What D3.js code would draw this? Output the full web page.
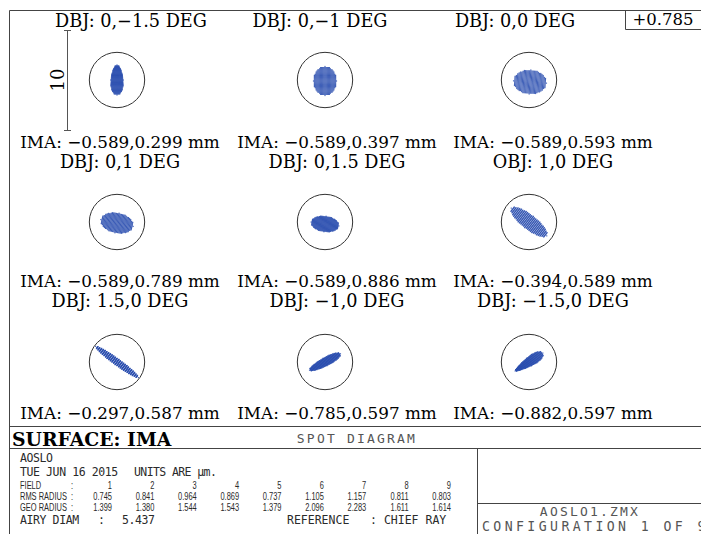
<!DOCTYPE html>
<html><head><meta charset="utf-8">
<script src="https://cdn.jsdelivr.net/npm/d3@7"></script>
<style>body{margin:0;background:#fff;overflow:hidden}</style>
</head><body>
<script>
// ---------- data ----------
const fieldNumbers = [1, 2, 3, 4, 5, 6, 7, 8, 9];
const objectLabels = ["DBJ: 0,\u22121.5 DEG", "DBJ: 0,\u22121 DEG", "DBJ: 0,0 DEG",
  "DBJ: 0,1 DEG", "DBJ: 0,1.5 DEG", "OBJ: 1,0 DEG",
  "DBJ: 1.5,0 DEG", "DBJ: \u22121,0 DEG", "DBJ: \u22121.5,0 DEG"];
const imageLabels = ["IMA: \u22120.589,0.299 mm", "IMA: \u22120.589,0.397 mm", "IMA: \u22120.589,0.593 mm",
  "IMA: \u22120.589,0.789 mm", "IMA: \u22120.589,0.886 mm", "IMA: \u22120.394,0.589 mm",
  "IMA: \u22120.297,0.587 mm", "IMA: \u22120.785,0.597 mm", "IMA: \u22120.882,0.597 mm"];
const rmsRadius = ["0.745", "0.841", "0.964", "0.869", "0.737", "1.105", "1.157", "0.811", "0.803"];
const geoRadius = ["1.399", "1.380", "1.544", "1.543", "1.379", "2.096", "2.283", "1.611", "1.614"];
// spot footprint per field (micrometres)
const spotSemiMajor = [1.5, 1.45, 1.65, 1.65, 1.4, 2.25, 2.65, 1.75, 1.65];
const spotSemiMinor = [0.62, 1.15, 1.2, 1.0, 0.78, 0.72, 0.33, 0.42, 0.45];
const spotAngle = [90, 90, 4, 12, 8, 38, 36, -28, -33];
const spotOffsetX = [0, 0, 0.1, 0, 0, 0, 0, 0, 0];
const spotOffsetY = [0, 0.1, 0.2, 0.1, 0.2, 0, 0, 0, 0];
const spotTaper = [0.2, 0, 0, 0, 0, 0, 0, 0.15, 0.5];
const airyDiameter = 5.437;
const scaleBarLength = 10;
const referenceLabel = "+0.785";
const surfaceLabel = "SURFACE: IMA";
const plotTitle = "SPOT DIAGRAM";
const lensName = "AOSLO";
const dateText = "TUE JUN 16 2015";
const unitsText = "UNITS ARE \u00b5m.";
const airyLine = ["AIRY DIAM", ":", "5.437"];
const referenceLine = "REFERENCE   : CHIEF RAY";
const fileName = "AOSLO1.ZMX";
const configLine = "CONFIGURATION 1 OF 9";

// ---------- layout ----------
const W = 701, H = 534;
const svg = d3.select("body").append("svg").attr("width", W).attr("height", H)
  .style("background", "#fff");
const serif = "'DejaVu Serif', serif";
const mono = "'DejaVu Sans Mono', monospace";
const ink = "#000", lineCol = "#444", spotCol = "#2d50b0";

const colX = [117, 325, 529];             // spot centres
const rowY = [80, 222, 362];
const topTitleX = [131, 320, 515];
const labelX = [120, 337, 553];
const objBase = [27, 168, 307];
const imaBase = [148, 287, 419];

const um = d3.scaleLinear().domain([0, scaleBarLength]).range([0, 100]);

// frame
svg.append("path").attr("d", `M9.5,${H} V10.5 H${W}`).attr("fill", "none").attr("stroke", lineCol);
svg.append("path").attr("d", `M625.5,10.5 V29.5 H${W}`).attr("fill", "none").attr("stroke", lineCol);
svg.append("text").attr("x", 663).attr("y", 25).attr("text-anchor", "middle")
  .attr("font-family", serif).attr("font-size", 16.5).attr("fill", ink).text(referenceLabel);

// scale bar
const barY = d3.scaleLinear().domain([0, scaleBarLength]).range([130, 30]);
const sb = svg.append("g").attr("stroke", "#555");
sb.append("line").attr("x1", 67.5).attr("x2", 67.5).attr("y1", barY(0)).attr("y2", barY(scaleBarLength));
[0, scaleBarLength].forEach(v => sb.append("line").attr("x1", 64).attr("x2", 71)
  .attr("y1", barY(v) + 0.5).attr("y2", barY(v) + 0.5));
svg.append("text").attr("transform", `translate(64,${barY(scaleBarLength / 2)}) rotate(-90)`)
  .attr("text-anchor", "middle").attr("font-family", serif).attr("font-size", 18).attr("fill", ink)
  .text(String(scaleBarLength));

// spots
const grid = d3.range(-1, 1.0001, 2 / 26);
fieldNumbers.forEach((f, i) => {
  const r = Math.floor(i / 3), c = i % 3;
  const cx = colX[c], cy = rowY[r];
  const g = svg.append("g");
  g.append("circle").attr("cx", cx).attr("cy", cy).attr("r", um(airyDiameter / 2) + 0.5)
    .attr("fill", "none").attr("stroke", "#333").attr("stroke-width", 1);
  const a = spotSemiMajor[i], b = spotSemiMinor[i], t = spotTaper[i];
  const th = spotAngle[i] * Math.PI / 180;
  const pts = [];
  grid.forEach(u => grid.forEach(v => {
    if (u * u + v * v <= 1) {
      const p = u * a, q = v * b * (1 + t * u);
      const x = p * Math.cos(th) - q * Math.sin(th) + spotOffsetX[i];
      const y = p * Math.sin(th) + q * Math.cos(th) + spotOffsetY[i];
      pts.push([x, y]);
    }
  }));
  g.selectAll("rect.d").data(pts).join("rect").attr("class", "d")
    .attr("x", d => cx + um(d[0]) - 0.6).attr("y", d => cy + um(d[1]) - 0.6)
    .attr("width", 1.2).attr("height", 1.2).attr("fill", spotCol).attr("opacity", 0.85);
  // labels
  svg.append("text").attr("x", r === 0 ? topTitleX[c] : labelX[c]).attr("y", objBase[r])
    .attr("text-anchor", "middle").attr("font-family", serif).attr("font-size", 17.7)
    .attr("fill", ink).text(objectLabels[i]);
  svg.append("text").attr("x", labelX[c]).attr("y", imaBase[r])
    .attr("text-anchor", "middle").attr("font-family", serif).attr("font-size", 16.8)
    .attr("fill", ink).text(imageLabels[i]);
});

// bottom information block
const info = svg.append("g").attr("stroke", lineCol).attr("fill", "none");
info.append("line").attr("x1", 9).attr("x2", W).attr("y1", 426.5).attr("y2", 426.5);
info.append("line").attr("x1", 9).attr("x2", W).attr("y1", 448.5).attr("y2", 448.5);
info.append("line").attr("x1", 477.5).attr("x2", 477.5).attr("y1", 448.5).attr("y2", H);
info.append("line").attr("x1", 477.5).attr("x2", W).attr("y1", 503.5).attr("y2", 503.5);

svg.append("text").attr("x", 12).attr("y", 446).attr("font-family", serif).attr("font-weight", "bold")
  .attr("font-size", 18.8).attr("fill", ink).text(surfaceLabel);
svg.append("text").attr("x", 357).attr("y", 443).attr("text-anchor", "middle")
  .attr("font-family", mono).attr("font-size", 13).attr("letter-spacing", 2.2)
  .attr("fill", "#555").text(plotTitle);

const tcol = "#2a2a2a";
const mtext = (x, y, s, ls) => svg.append("text").attr("x", x).attr("y", y)
  .attr("font-family", mono).attr("font-size", 11.5)
  .attr("letter-spacing", ls === undefined ? -0.4 : ls).attr("fill", tcol)
  .style("white-space", "pre").text(s);
mtext(20, 462, lensName);
mtext(20, 476, dateText);
mtext(134, 476, unitsText, -0.6);
mtext(20, 524, airyLine[0]);
mtext(98, 524, airyLine[1]);
mtext(122, 524, airyLine[2]);
mtext(287, 524, referenceLine, 0);

const narrow = (x, y, s, anchor) => svg.append("text")
  .attr("transform", `translate(${x},${y}) scale(0.68,0.95)`)
  .attr("text-anchor", anchor || "start").attr("font-family", "'Liberation Sans', Arial, sans-serif")
  .attr("font-size", 11).attr("fill", tcol).text(s);
const colR = d3.scalePoint().domain(fieldNumbers).range([112, 451]);
narrow(20, 489, "FIELD");
narrow(20, 500, "RMS RADIUS");
narrow(20, 511, "GEO RADIUS");
[489, 500, 511].forEach(y => narrow(71, y, ":"));
fieldNumbers.forEach((f, i) => {
  narrow(colR(f), 489, String(f), "end");
  narrow(colR(f), 500, rmsRadius[i], "end");
  narrow(colR(f), 511, geoRadius[i], "end");
});

svg.append("text").attr("x", 590).attr("y", 516).attr("text-anchor", "middle")
  .attr("font-family", mono).attr("font-size", 13).attr("letter-spacing", 2.2)
  .attr("fill", "#555").text(fileName);
svg.append("text").attr("x", 482).attr("y", 531)
  .attr("font-family", mono).attr("font-size", 13.2).attr("letter-spacing", 3.4)
  .attr("fill", "#555").text(configLine);
</script>
</body></html>
